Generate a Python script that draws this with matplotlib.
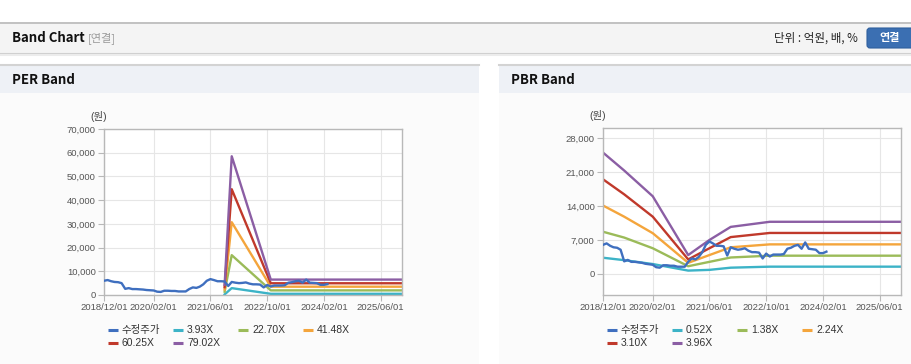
import matplotlib
matplotlib.use('Agg')
import matplotlib.pyplot as plt
import matplotlib.dates as mdates
from matplotlib.patches import Rectangle, FancyBboxPatch
from matplotlib.ticker import FuncFormatter
import pandas as pd

plt.rcParams['font.family'] = ['Liberation Sans', 'Noto Sans CJK KR']

# 수정주가 (월별)
price_dates = pd.date_range('2018-12-01', periods=64, freq='MS')
price = [6000, 6300, 5800, 5500, 5400, 5000, 2600, 2900, 2500, 2500, 2400, 2300,
         2100, 2000, 1900, 1400, 1300, 1800, 1800, 1700, 1700, 1500, 1500, 1500,
         2500, 3200, 3000, 3500, 4500, 6000, 6700, 6300, 5800, 5800, 5700, 3800,
         5500, 5200, 5000, 5100, 5300, 4800, 4500, 4500, 4400, 3200, 4200, 3600,
         4000, 4000, 4000, 4100, 5200, 5400, 5800, 6000, 5200, 6500, 5200, 5100,
         5000, 4300, 4300, 4600]

# PER 밴드
per_dates = pd.to_datetime(['2021-10-01', '2021-12-01', '2022-11-01', '2025-12-01'])
per_labels = ['3.93X', '22.70X', '41.48X', '60.25X', '79.02X']
per_b1 = [250, 2900, 500, 500]
per_b2 = [1400, 16800, 1950, 1950]
per_b3 = [2300, 30700, 3500, 3500]
per_b4 = [3300, 44600, 4950, 4950]
per_b5 = [4300, 58500, 6500, 6500]

# PBR 밴드
pbr_dates = pd.to_datetime(['2018-12-01', '2019-06-01', '2020-02-01', '2020-12-01',
                            '2021-06-01', '2021-12-01', '2022-11-01', '2025-12-01'])
pbr_labels = ['0.52X', '1.38X', '2.24X', '3.10X', '3.96X']
pbr_b1 = [3350, 2850, 2050, 700, 850, 1300, 1510, 1510]
pbr_b2 = [8700, 7500, 5300, 1600, 2500, 3400, 3770, 3770]
pbr_b3 = [14100, 11800, 8400, 2300, 3900, 5500, 6100, 6100]
pbr_b4 = [19500, 16400, 11800, 3000, 5300, 7600, 8450, 8450]
pbr_b5 = [25000, 21300, 16000, 3900, 7000, 9700, 10750, 10750]

x_ticks = pd.to_datetime(['2018-12-01', '2020-02-01', '2021-06-01',
                          '2022-10-01', '2024-02-01', '2025-06-01'])
colors = ['#3f6fbf', '#3cb3c7', '#9bbb59', '#f4a53c', '#c0392b', '#8b5ea4']

W, H = 912, 364
fig = plt.figure(figsize=(W / 100, H / 100), dpi=100)

# 배경 레이아웃 (픽셀 좌표)
bg = fig.add_axes([0, 0, 1, 1])
bg.set_xlim(0, W)
bg.set_ylim(H, 0)
bg.axis('off')

bg.add_patch(Rectangle((0, 22), W, 31, facecolor='#f4f4f4', edgecolor='none'))
bg.plot([0, W], [22.5, 22.5], color='#b8b8b8', lw=1.2)
bg.plot([0, W], [53.5, 53.5], color='#cfcfcf', lw=1.5)
bg.plot([0, W], [55, 55], color='#ececec', lw=1.5)
bg.text(12, 38, 'Band Chart', fontsize=9.5, fontweight='bold', family='Noto Sans CJK KR',
        va='center', color='#111111')
bg.text(88, 38, '[연결]', fontsize=8, va='center', color='#9a9a9a', family='Noto Sans CJK KR')
bg.text(858, 38, '단위 : 억원, 배, %', fontsize=8.3, va='center', ha='right', color='#222222',
        family='Noto Sans CJK KR')
bg.add_patch(FancyBboxPatch((867, 28), 50, 20, boxstyle='round,pad=0,rounding_size=3',
                            facecolor='#3b6fb2', edgecolor='#2f5f9e', lw=0.8))
bg.text(890, 38, '연결', fontsize=8, fontweight='bold', va='center', ha='center',
        color='white', family='Noto Sans CJK KR')

for px0, px1, title in [(0, 479, 'PER Band'), (499, W, 'PBR Band')]:
    bg.add_patch(Rectangle((px0, 64), px1 - px0, H - 64, facecolor='#fbfbfb', edgecolor='none'))
    bg.add_patch(Rectangle((px0, 64), px1 - px0, 29, facecolor='#eef1f6', edgecolor='none'))
    bg.plot([px0, px1], [64.5, 64.5], color='#d3d3d3', lw=1.5)
    bg.text(px0 + 12, 80, title, fontsize=9.5, fontweight='bold', family='Noto Sans CJK KR',
            va='center', color='#111111')


def draw_panel(rect, ylim, yticks, band_dates, bands, labels, leg_x):
    ax = fig.add_axes(rect)
    ax.set_facecolor('white')
    ax.plot(price_dates, price, color=colors[0], lw=1.7, zorder=3)
    for i, vals in enumerate(bands):
        ax.plot(band_dates, vals, color=colors[i + 1], lw=1.7, zorder=2)
    ax.set_xlim(pd.Timestamp('2018-12-01'), pd.Timestamp('2025-12-01'))
    ax.set_ylim(*ylim)
    ax.set_yticks(yticks)
    ax.yaxis.set_major_formatter(FuncFormatter(lambda v, p: f'{int(v):,}'))
    ax.set_xticks(x_ticks)
    ax.xaxis.set_major_formatter(mdates.DateFormatter('%Y/%m/%d'))
    ax.grid(True, color='#e6e6e6', lw=0.8)
    ax.set_axisbelow(True)
    for s in ax.spines.values():
        s.set_color('#b8b8b8')
        s.set_linewidth(1)
    ax.tick_params(length=4, width=0.8, color='#b8b8b8', labelsize=6.8,
                   labelcolor='#555555', pad=2)
    ax.text(-0.017, 1.075, '(원)', transform=ax.transAxes, fontsize=7.5, ha='center',
            va='center', color='#444444')

    # 범례
    names = ['수정주가'] + labels
    for k, name in enumerate(names):
        cx = leg_x + (k % 4) * 65
        cy = 330 + (k // 4) * 13
        bg.plot([cx, cx + 10], [cy, cy], color=colors[k], lw=2.2, solid_capstyle='butt')
        bg.text(cx + 14, cy, name, fontsize=7.5, va='center', color='#333333')
    return ax


draw_panel([104 / W, 1 - 295 / H, 298 / W, 166 / H], (0, 70000),
           range(0, 70001, 10000), per_dates,
           [per_b1, per_b2, per_b3, per_b4, per_b5], per_labels, 108)
draw_panel([603 / W, 1 - 295 / H, 298 / W, 167 / H], (-4324, 30060),
           range(0, 28001, 7000), pbr_dates,
           [pbr_b1, pbr_b2, pbr_b3, pbr_b4, pbr_b5], pbr_labels, 607)

fig.savefig('out.png', dpi=100)
